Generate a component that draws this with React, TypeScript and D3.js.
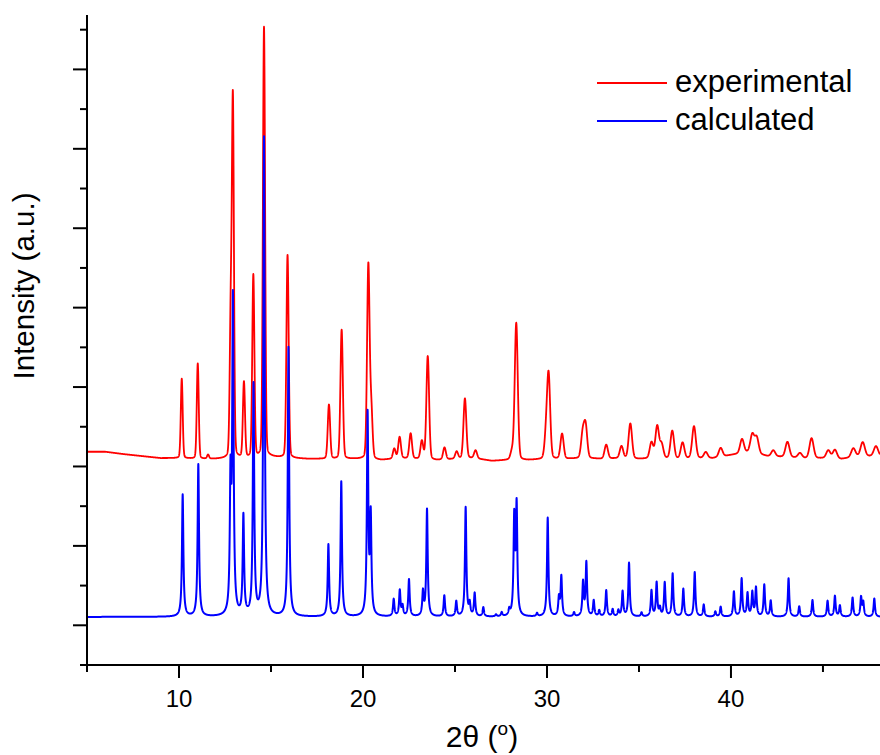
import React from "react";
import * as d3 from "d3";

// ---- Data ----
// Calculated pattern: peak positions (2θ, °) and peak heights (a.u., above baseline)
const calcPos = [
  10.2, 11.05, 12.8, 12.93, 13.5, 14.05, 14.62, 15.95, 18.12, 18.82, 20.25, 20.42,
  21.67, 22.0, 22.15, 22.5, 23.26, 23.48, 24.42, 25.07, 25.58, 25.8, 26.07, 26.54,
  27.23, 27.54, 27.95, 28.22, 28.35, 29.46, 30.04, 30.65, 30.78, 31.47, 31.96, 32.14,
  32.54, 32.84, 33.22, 33.57, 33.88, 34.11, 34.46, 35.14, 35.68, 35.96, 36.14, 36.4,
  36.83, 37.41, 38.03, 38.52, 39.15, 39.44, 40.16, 40.58, 40.9, 41.16, 41.36, 41.81,
  42.16, 43.13, 43.71, 44.43, 45.25, 45.65, 45.92, 46.61, 47.07, 47.19, 47.79,
];
const calcHeight = [
  3.07, 3.83, 3.2, 7.85, 2.5, 5.8, 12.05, 6.78, 1.81, 3.4, 5.05, 2.45,
  0.43, 0.65, 0.25, 0.93, 0.6, 2.7, 0.53, 0.38, 2.75, 0.3, 0.58, 0.23,
  0.05, 0.1, 0.15, 2.42, 2.73, 0.08, 2.49, 0.45, 1.0, 0.1, 0.85, 1.35,
  0.4, 0.15, 0.66, 0.18, 0.15, 0.63, 1.35, 0.1, 0.65, 0.85, 0.2, 0.85,
  1.08, 0.7, 1.12, 0.3, 0.13, 0.25, 0.63, 0.95, 0.58, 0.6, 0.72, 0.8,
  0.4, 0.97, 0.26, 0.42, 0.4, 0.52, 0.28, 0.48, 0.48, 0.35, 0.46,
];
const calcBaseline = 1.21;
const calcFwhm = 0.09;

// Experimental pattern: peak positions and heights above background
const expPos = [
  10.15, 11.02, 11.58, 12.81, 12.93, 13.53, 14.04, 14.62, 15.9, 18.15, 18.84, 20.29,
  20.45, 21.7, 21.99, 22.59, 23.2, 23.52, 24.43, 25.09, 25.54, 26.12, 28.1, 28.33,
  29.95, 30.09, 30.82, 31.94, 32.1, 33.22, 34.05, 34.53, 35.68, 35.99, 36.23, 36.81,
  37.37, 37.99, 38.63, 39.44, 40.6, 41.16, 41.4, 42.3, 43.07, 43.75, 44.38, 45.29,
  45.65, 46.65, 47.16, 47.88,
];
const expHeight = [
  2.0, 2.4, 0.1, 3.3, 8.85, 1.9, 4.6, 10.83, 5.11, 1.36, 3.25, 4.85,
  1.2, 0.25, 0.53, 0.63, 0.45, 2.6, 0.3, 0.18, 1.51, 0.2, 0.2, 3.45,
  0.55, 2.06, 0.63, 0.6, 0.8, 0.35, 0.3, 0.88, 0.4, 0.8, 0.35, 0.7,
  0.4, 0.8, 0.15, 0.22, 0.35, 0.45, 0.4, 0.15, 0.38, 0.12, 0.5, 0.2,
  0.22, 0.22, 0.35, 0.25,
];
// Experimental background level (a.u.) at whole degrees 5..48
const expBgX = d3.range(5, 49, 1);
const expBgY = [
  5.37, 5.37, 5.31, 5.26, 5.21, 5.21, 5.19, 5.19, 5.21, 5.21, 5.24, 5.21,
  5.19, 5.19, 5.19, 5.19, 5.16, 5.21, 5.19, 5.16, 5.19, 5.21, 5.14, 5.16,
  5.16, 5.19, 5.19, 5.21, 5.19, 5.21, 5.19, 5.21, 5.19, 5.21, 5.21, 5.29,
  5.37, 5.26, 5.24, 5.21, 5.21, 5.19, 5.26, 5.26,
];

const xMajor = [10, 20, 30, 40];
const xMinor = [5, 15, 25, 35, 45];
const yMajor = [1, 3, 5, 7, 9, 11, 13, 15];
const yMinor = [0, 2, 4, 6, 8, 10, 12, 14, 16];
const xDomain: [number, number] = [5, 48.1];
const yDomain: [number, number] = [0, 16.37];

const W = 880;
const H = 755;
const left = 87;
const right = 880;
const top = 15;
const bottom = 665;
const FONT = "'Liberation Sans', Arial, Helvetica, sans-serif";

function lorentz(x: number, x0: number, w: number) {
  const t = (x - x0) / (w / 2);
  return 1 / (1 + t * t);
}
function gauss(x: number, x0: number, w: number) {
  const t = (x - x0) / w;
  return Math.exp(-4 * Math.LN2 * t * t);
}

export default function App() {
  const x = d3.scaleLinear().domain(xDomain).range([left, right]);
  const y = d3.scaleLinear().domain(yDomain).range([bottom, top]);

  const grid = d3.range(xDomain[0], xDomain[1] + 0.001, 0.005);
  const bg = d3.scaleLinear().domain(expBgX).range(expBgY).clamp(true);

  const calc = grid.map((t) => {
    let v = calcBaseline;
    for (let i = 0; i < calcPos.length; i++) v += calcHeight[i] * lorentz(t, calcPos[i], calcFwhm);
    return [t, v] as [number, number];
  });
  const exp = grid.map((t) => {
    let v = bg(t);
    for (let i = 0; i < expPos.length; i++) {
      const w = 0.12 + 0.004 * (expPos[i] - 10);
      v += expHeight[i] * (0.85 * gauss(t, expPos[i], w) + 0.15 * lorentz(t, expPos[i], w));
    }
    return [t, v] as [number, number];
  });

  const line = d3
    .line<[number, number]>()
    .x((d) => x(d[0]))
    .y((d) => y(d[1]));

  return (
    <svg
      width={W}
      height={H}
      style={{ position: "absolute", left: 0, top: 0, background: "#fff" }}
      fontFamily={FONT}
    >
      <defs>
        <clipPath id="plot">
          <rect x={left} y={0} width={right - left} height={bottom} />
        </clipPath>
      </defs>
      <g clipPath="url(#plot)" fill="none">
        <path d={line(exp) || ""} stroke="#ff0000" strokeWidth={1.8} strokeLinejoin="round" />
        <path d={line(calc) || ""} stroke="#0000ff" strokeWidth={2} strokeLinejoin="round" />
      </g>

      {/* axes */}
      <g stroke="#000" strokeWidth={2} fill="none">
        <line x1={left} x2={left} y1={top} y2={bottom + 1} />
        <line x1={left - 1} x2={right} y1={bottom} y2={bottom} />
        {xMajor.map((v) => (
          <line key={"xM" + v} x1={x(v)} x2={x(v)} y1={bottom} y2={bottom + 13} />
        ))}
        {xMinor.map((v) => (
          <line key={"xm" + v} x1={x(v)} x2={x(v)} y1={bottom} y2={bottom + 7} />
        ))}
        {yMajor.map((v) => (
          <line key={"yM" + v} x1={left - 14} x2={left} y1={y(v)} y2={y(v)} />
        ))}
        {yMinor.map((v) => (
          <line key={"ym" + v} x1={left - 7} x2={left} y1={y(v)} y2={y(v)} />
        ))}
      </g>
      <g fontSize={24} textAnchor="middle" fill="#000">
        {xMajor.map((v) => (
          <text key={"xl" + v} x={x(v)} y={707}>
            {v}
          </text>
        ))}
      </g>
      <text x={482} y={747} fontSize={30} textAnchor="middle" fill="#000">
        2θ (<tspan fontSize={19} dy={-12}>o</tspan>
        <tspan dy={12}>)</tspan>
      </text>
      <text
        transform="translate(34,286) rotate(-90)"
        fontSize={29.5}
        textAnchor="middle"
        fill="#000"
      >
        Intensity (a.u.)
      </text>

      {/* legend */}
      <line x1={597} x2={667} y1={83} y2={83} stroke="#ff0000" strokeWidth={1.8} />
      <line x1={597} x2={667} y1={121} y2={121} stroke="#0000ff" strokeWidth={2} />
      <text x={675} y={92} fontSize={31} fill="#000">
        experimental
      </text>
      <text x={675} y={130} fontSize={31} fill="#000">
        calculated
      </text>
    </svg>
  );
}
